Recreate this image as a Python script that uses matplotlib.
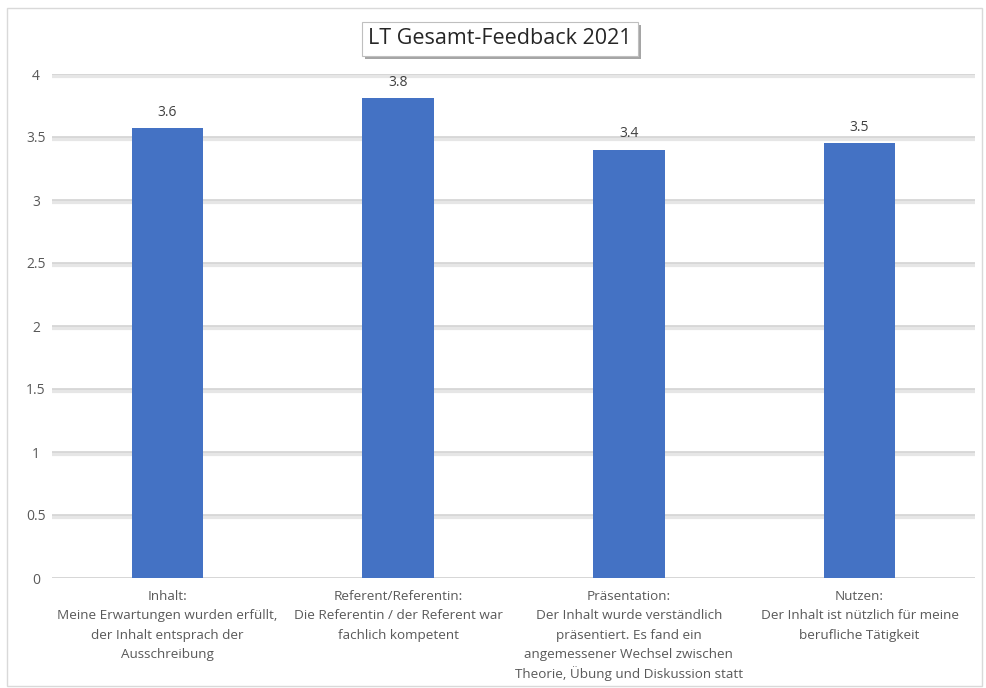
import matplotlib
matplotlib.use("Agg")
import matplotlib.pyplot as plt
from matplotlib.patches import Rectangle
from matplotlib.transforms import blended_transform_factory, offset_copy
import matplotlib.patheffects as pe

categories = [
    "Inhalt:\nMeine Erwartungen wurden erfüllt,\nder Inhalt entsprach der\nAusschreibung",
    "Referent/Referentin:\nDie Referentin / der Referent war\nfachlich kompetent",
    "Präsentation:\nDer Inhalt wurde verständlich\npräsentiert. Es fand ein\nangemessener Wechsel zwischen\nTheorie, Übung und Diskussion statt",
    "Nutzen:\nDer Inhalt ist nützlich für meine\nberufliche Tätigkeit",
]
values = [3.57, 3.81, 3.40, 3.45]
value_labels = ["3.6", "3.8", "3.4", "3.5"]
yticks = [0, 0.5, 1, 1.5, 2, 2.5, 3, 3.5, 4]
ytick_labels = ["0", "0.5", "1", "1.5", "2", "2.5", "3", "3.5", "4"]
title = "LT Gesamt-Feedback 2021"

plt.rcParams['font.family'] = ['Open Sans', 'DejaVu Sans']

fig = plt.figure(figsize=(9.87, 6.88), dpi=100)
fig.patch.set_facecolor("white")
fig.patches.append(Rectangle((7/987, 1-686/688), (982-7)/987, (686-8)/688,
                             transform=fig.transFigure, fill=False,
                             edgecolor="#d9d9d9", linewidth=1))

ax = fig.add_axes([52/987, 1-578/688, (975-52)/987, (578-74)/688])
x = list(range(len(categories)))
ax.set_xlim(-0.5, len(categories) - 0.5)
ax.set_ylim(0, 4)

for t in yticks[1:]:
    ax.axhline(t - 0.012, color="#e6e6e6", linewidth=3.0, zorder=0)
    ax.axhline(t, color="#d4d4d4", linewidth=1.2, zorder=0)
ax.axhline(0, color="#d0d0d0", linewidth=1.2, zorder=0)

ax.bar(x, values, width=0.31, color="#4472C4", zorder=2)
for xi, v, lab in zip(x, values, value_labels):
    ax.annotate(lab, (xi, v), xytext=(0, 6), textcoords="offset points",
                ha="center", va="bottom", fontsize=10, color="#404040")

ax.set_yticks(yticks)
ax.set_yticklabels(ytick_labels, fontsize=10, color="#595959")
for lbl in ax.get_yticklabels():
    lbl.set_horizontalalignment("center")
ax.set_xticks(x)
ax.set_xticklabels([""] * len(x))
ax.tick_params(axis="both", length=0)
ax.tick_params(axis="y", pad=11.5)
for s in ax.spines.values():
    s.set_visible(False)

# category labels, one line at a time with fixed spacing
trans = blended_transform_factory(ax.transData, ax.transAxes)
for xi, cat in zip(x, categories):
    for j, line in enumerate(cat.split("\n")):
        tr = offset_copy(trans, fig=fig, x=0, y=-(18 + 19.5 * j) * 72 / 100, units="points")
        ax.text(xi, 0, line, transform=tr, ha="center", va="center",
                fontsize=9.7, color="#595959")

t = fig.text(500/987, 1-39/688, title, ha="center", va="center", fontsize=15.5,
             color="#262626",
             bbox=dict(boxstyle="square,pad=0.3", facecolor="white",
                       edgecolor="#bfbfbf", linewidth=0.8))
t.get_bbox_patch().set_path_effects([pe.SimplePatchShadow(offset=(2, -2), alpha=0.5), pe.Normal()])

fig.savefig("out.png", dpi=100)
